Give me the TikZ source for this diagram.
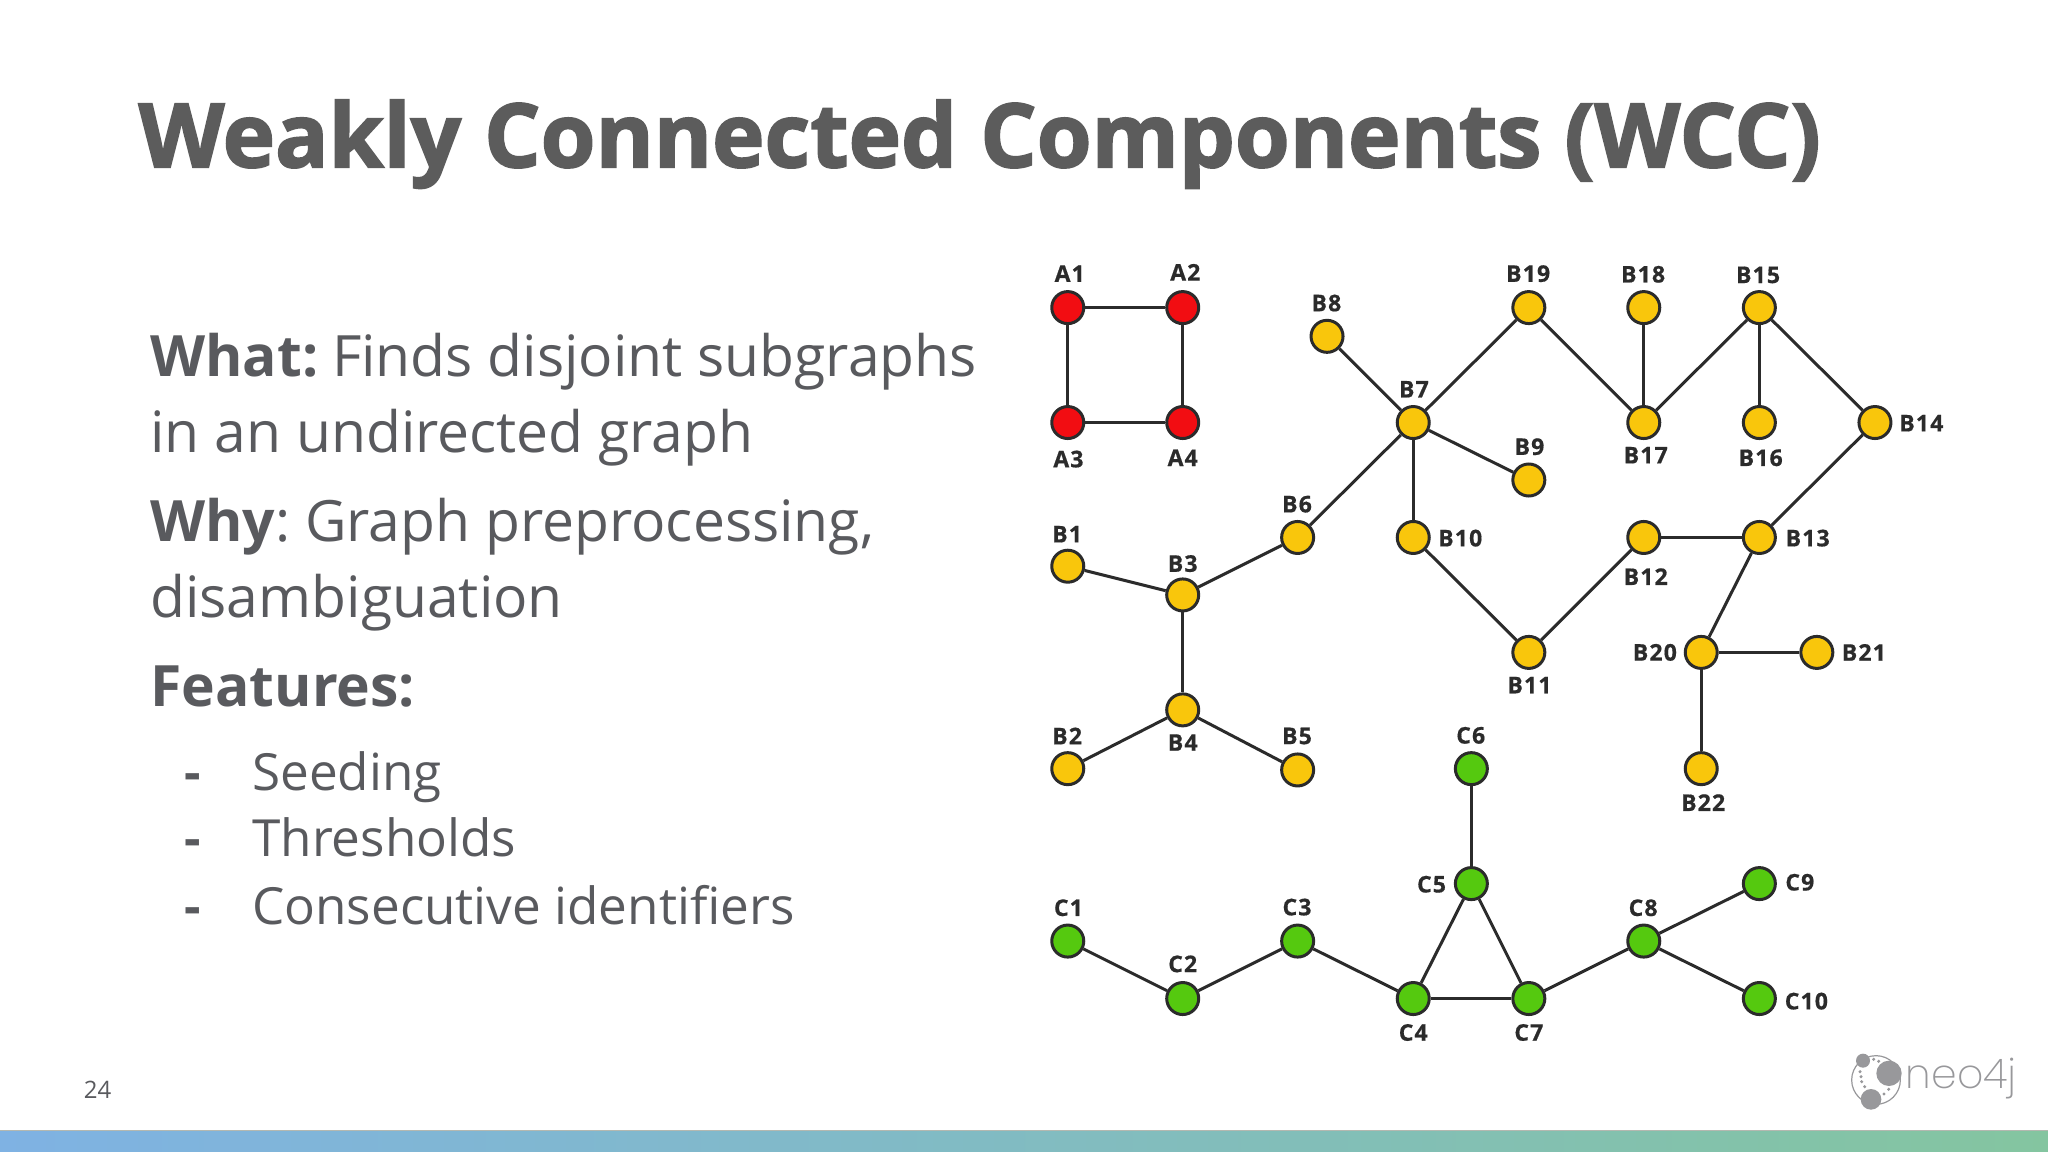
\documentclass[tikz,border=0pt]{standalone}
\usepackage{fontspec}
\setmainfont{Open Sans}
\newfontfamily\logofont{Poppins ExtraLight}
\newfontfamily\titlefont[BoldFeatures={FakeBold=2}]{Open Sans}
\newfontfamily\labfont[LetterSpace=5,BoldFeatures={FakeBold=0.6}]{Open Sans}
\definecolor{txt}{HTML}{595A5E}
\definecolor{ttl}{HTML}{5C5C5C}
\definecolor{edgec}{HTML}{2B2B2B}
\definecolor{rednode}{HTML}{F20D12}
\definecolor{yelnode}{HTML}{F9C60C}
\definecolor{grnnode}{HTML}{55C90F}
\definecolor{logoc}{HTML}{98989B}
\definecolor{barl}{HTML}{7FB2E3}
\definecolor{barm}{HTML}{85BDC4}
\definecolor{barr}{HTML}{84C5A0}
\definecolor{barline}{HTML}{B4B8B0}
\tikzset{
  vert/.style={circle,draw=edgec,line width=3pt,minimum size=32pt,inner sep=0pt},
  rv/.style={vert,fill=rednode},
  yv/.style={vert,fill=yelnode},
  gv/.style={vert,fill=grnnode},
  lab/.style={font=\labfont\fontsize{23}{25}\selectfont\bfseries,text=edgec,inner sep=0pt},
  edgeline/.style={draw=edgec,line width=3pt},
  body/.style={anchor=base west,inner sep=0pt,text=txt,font=\fontsize{57}{60}\selectfont},
  items/.style={anchor=base west,inner sep=0pt,text=txt,font=\fontsize{51.2}{60}\selectfont},
}
\begin{document}
\begin{tikzpicture}[x=1.3061pt,y=-1.3061pt]
\useasboundingbox (0,0) rectangle (1568,882);
\fill[white] (0,0) rectangle (1568,882);
\shade[left color=barl,middle color=barm,right color=barr] (0,865.2) rectangle (1568,882);
\fill[barline] (0,865) rectangle (1568,866);
\node[anchor=base west,inner sep=0pt,text=ttl,font=\titlefont\fontsize{88.7}{90}\selectfont\bfseries] (title) at (106,128) {Weakly Connected Components (WCC)};
\node[body] (t1) at (115,288.6) {\textbf{What:}\hspace{-6pt} Finds disjoint subgraphs};
\node[body] (t2) at (115,346.6) {in an undirected graph};
\node[body] (t3) at (115,414.6) {\textbf{Why}:\hspace{-5pt} Graph preprocessing,};
\node[body] (t4) at (115,472.6) {disambiguation};
\node[body] (t5) at (115,540.6) {\textbf{Features:}};
\node[items] (d1) at (141,605) {\textbf{-}};
\node[items] (d2) at (141,656) {\textbf{-}};
\node[items] (d3) at (141,708) {\textbf{-}};
\node[items] (i1) at (193,605) {Seeding};
\node[items] (i2) at (193,656) {Thresholds};
\node[items] (i3) at (193,708) {Consecutive identifiers};
\node[anchor=base west,inner sep=0pt,text=txt,font=\fontsize{24}{26}\selectfont] (pg) at (64,841) {24};
% vertices
\foreach \n/\x/\y in {A1/817.5/235.5,A2/905.5/235.5,A3/817.5/323.5,A4/905.5/323.5}
  \node[rv] (\n) at (\x,\y) {};
\foreach \n/\x/\y in {B8/1016/257.5,B7/1082/323.5,B19/1170.5/235.5,B18/1258.5/235.5,B15/1347/235.5,B17/1258.5/323.5,B16/1347/323.5,B14/1435.5/323.5,B9/1170.5/367.5,B6/993.5/411.5,B10/1082/411.5,B12/1258.5/411.5,B13/1347/411.5,B1/817.5/433.5,B3/905.5/455.5,B11/1170.5/499.5,B20/1302.5/499.5,B21/1391/499.5,B4/905.5/543.5,B2/817.5/588.5,B5/993.5/589.5,B22/1302.5/588.5}
  \node[yv] (\n) at (\x,\y) {};
\foreach \n/\x/\y in {C6/1126.5/588.5,C5/1126.5/676.5,C9/1347/676.5,C1/817.5/720.5,C3/993.5/720.5,C8/1258.5/720.5,C2/905.5/764.5,C4/1082/764.5,C7/1170.5/764.5,C10/1347/764.5}
  \node[gv] (\n) at (\x,\y) {};
% edges
\foreach \a/\b in {A1/A2,A1/A3,A2/A4,A3/A4,
  B1/B3,B3/B6,B3/B4,B4/B2,B4/B5,B6/B7,B8/B7,B7/B19,B7/B9,B7/B10,B19/B17,B18/B17,B17/B15,B15/B16,B15/B14,B14/B13,B10/B11,B11/B12,B12/B13,B13/B20,B20/B21,B20/B22,
  C1/C2,C2/C3,C3/C4,C4/C5,C5/C6,C5/C7,C4/C7,C7/C8,C8/C9,C8/C10}
  \draw[edgeline] (\a) -- (\b);
% labels
\foreach \n/\x/\y in {A1/819/209.5,A2/907.5/208.5,A3/818/351.5,A4/905.5/350.5,B8/1015.5/232,B19/1170/209.5,B18/1258/210,B15/1346/210.5,B7/1082.5/298,B17/1260/348.5,B16/1348/350.5,B14/1471/324,B9/1171/342,B6/993/386,B10/1118/412,B12/1260/441.5,B13/1384/412,B1/817/409,B3/905.5/431.5,B11/1171/524.5,B20/1267/499.5,B21/1427/499.5,B4/905.5/568.5,B2/817/563.5,B5/993/563.5,B22/1304/614.5,C6/1126/563,C5/1096/677,C9/1378/675.5,C1/818/695,C3/993/694.5,C8/1258/695,C2/905.5/738,C4/1082/790.5,C7/1170.5/790.5,C10/1383/766.5}
  \node[lab] (L\n) at (\x,\y) {\n};
% logo (coordinates in zoomed crop pixels)
\begin{scope}[x=0.33333pt,y=-0.33333pt,shift={(5340,3060)}]
\draw[logoc,line width=1.2pt] (288,180) circle (73);
\fill[logoc] (249,122) circle (21);
\fill[logoc] (327,160) circle (38);
\fill[logoc] (273,238) circle (31);
\foreach \p in {(281,118),(296,124),(240,155),(243,170),(245,185),(254,200),(312,222),(326,208)}
  \fill[logoc] \p circle (5);
\end{scope}
\node[anchor=base west,inner sep=0pt,text=logoc,font=\logofont\fontsize{41}{45}\selectfont] (logo) at (1459,833) {neo4j};
\end{tikzpicture}
\end{document}
